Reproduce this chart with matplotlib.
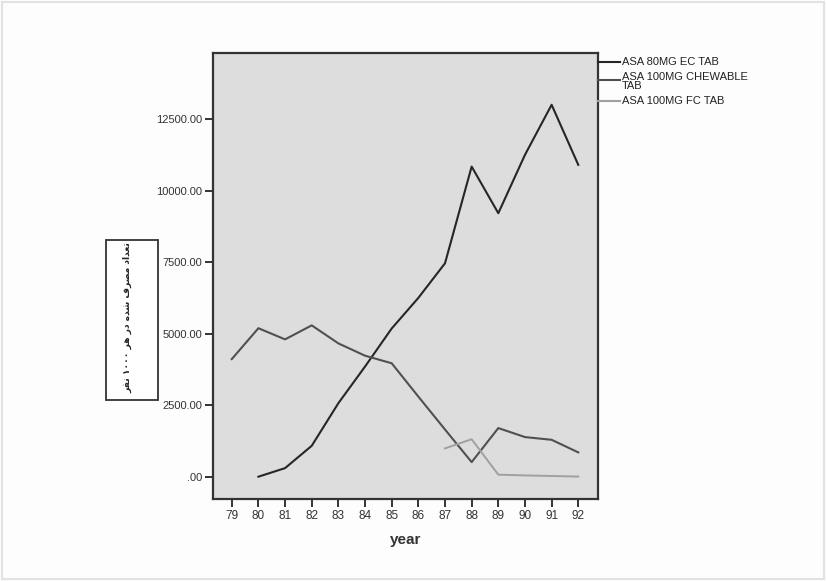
import matplotlib
matplotlib.use("Agg")
import matplotlib.pyplot as plt
from matplotlib.lines import Line2D
from matplotlib.patches import Rectangle
from matplotlib.ticker import FuncFormatter

plt.rcParams['font.family'] = ['Liberation Sans', 'DejaVu Sans']

years = list(range(79, 93))
series_names = ["ASA 80MG EC TAB", "ASA 100MG CHEWABLE\nTAB", "ASA 100MG FC TAB"]
ec80_years = list(range(80, 93))
ec80 = [0, 300, 1080, 2570, 3850, 5180, 6250, 7460, 10840, 9210, 11250, 13000, 10900]
chew100_years = list(range(79, 93))
chew100 = [4110, 5190, 4800, 5290, 4660, 4230, 3965, 2800, 1650, 510, 1700, 1385, 1290, 850]
fc100_years = list(range(87, 93))
fc100 = [990, 1310, 70, 45, 25, 5]
yticks = [0, 2500, 5000, 7500, 10000, 12500]
ylabel_text = "\uFEAE\uFED4\uFEE7 \u06F1\u06F0\u06F0\u06F0 \uFEAE\uFEEB \uFEAD\uFEA9 \uFEE9\uFEAA\uFEB7 \uFED1\uFEAE\uFEBC\uFEE3 \uFEA9\uFE8D\uFEAA\uFECC\uFE97"
colors = ["#262626", "#505050", "#a0a0a0"]

fig = plt.figure(figsize=(8.26, 5.81), dpi=100)
fig.patch.set_facecolor("#fdfdfd")
fig.patches.append(Rectangle((0.003, 0.004), 0.994, 0.992, transform=fig.transFigure,
                             fill=False, edgecolor="#e2e2e2", linewidth=1.5))

ax = fig.add_axes([0.2583, 0.1411, 0.4660, 0.7672])
ax.set_facecolor("#dddddd")
ax.plot(ec80_years, ec80, color=colors[0], lw=1.5)
ax.plot(chew100_years, chew100, color=colors[1], lw=1.5)
ax.plot(fc100_years, fc100, color=colors[2], lw=1.4)

ax.set_xlim(78.31, 92.75)
ax.set_ylim(-780, 14800)
ax.set_xticks(years)
ax.set_xticklabels([str(y) for y in years])
ax.set_yticks(yticks)

def fmt(v, pos):
    s = f"{v:.2f}"
    return s[1:] if s.startswith("0") else s

ax.yaxis.set_major_formatter(FuncFormatter(fmt))
for sp in ax.spines.values():
    sp.set_color("#333333")
    sp.set_linewidth(1.6)
ax.tick_params(axis='both', direction='out', length=6, width=1.4, color="#333333",
               labelsize=8, labelcolor="#333333")
ax.tick_params(axis='y', pad=2)
ax.tick_params(axis='x', labelsize=8.5, pad=2)
ax.set_xlabel("year", fontsize=11, fontweight='bold', color="#333333", labelpad=8)

# y-axis title in a box
fig.patches.append(Rectangle((0.1283, 0.3115), 0.063, 0.2754, transform=fig.transFigure,
                             facecolor='white', edgecolor='#333333', linewidth=1.3))
fig.text(0.1545, 0.4527, ylabel_text, rotation=90, ha='center', va='center',
         fontsize=6.6, fontweight='bold', family=['DejaVu Sans'], color="#222222")

# legend
leg_y = [0.893, 0.862, 0.827]
text_y = [0.893, 0.860, 0.827]
for i, name in enumerate(series_names):
    fig.lines.append(Line2D([0.7243, 0.751], [leg_y[i], leg_y[i]], transform=fig.transFigure,
                            color=colors[i], lw=1.5))
    fig.text(0.753, text_y[i], name, ha='left', va='center', fontsize=8,
             color="#222222", linespacing=0.95)

fig.savefig("out.png", dpi=100, facecolor=fig.get_facecolor())
